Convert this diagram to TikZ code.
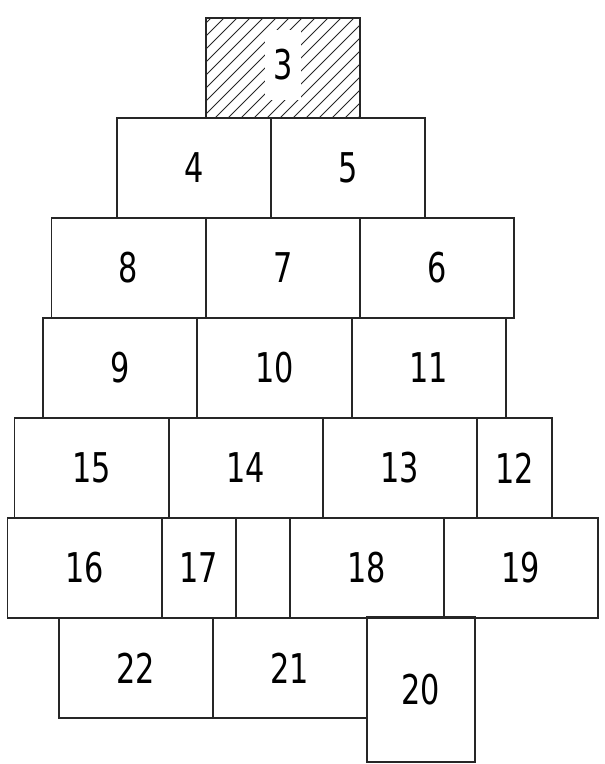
\documentclass[tikz,border=0pt]{standalone}
\usepackage{graphicx}
\usepackage{fontspec}
\setmainfont{DejaVu Sans}
\newcommand\dgt[1]{\scalebox{0.74}[1]{#1}}
\begin{document}
\begin{tikzpicture}[x=1pt,y=-1pt,
  cell/.style={draw=black!85, line width=1.3pt, minimum width=#1, minimum height=100pt,
    inner sep=0pt, outer sep=0pt, font=\fontsize{41}{41}\selectfont},
  cell/.default=154pt,
  hatch/.style={draw=black!85, line width=1pt}]
\useasboundingbox (0,0) rectangle (605,764);
% box 3 with hatching
\begin{scope}
  \clip (206,18) rectangle (360,118);
  \foreach \a in {94,107,...,366} {
    \draw[hatch] (\a,122) -- (\a+108,14);
  }
\end{scope}
\node[cell] (b3) at (283,68) {};
\node[fill=white, minimum width=36pt, minimum height=70pt, inner sep=0pt,
  font=\fontsize{41}{41}\selectfont] (l3) at (283,65) {\dgt{3}};
% row 1
\node[cell] (b4) at (194,168) {\dgt{4}};
\node[cell] (b5) at (348,168) {\dgt{5}};
% row 2
\node[cell] (b8) at (128.5,268) {\dgt{8}};
\node[cell] (b7) at (283,268) {\dgt{7}};
\node[cell] (b6) at (437,268) {\dgt{6}};
% row 3
\node[cell] (b9) at (120,368) {\dgt{9}};
\node[cell] (b10) at (274.5,368) {\dgt{10}};
\node[cell] (b11) at (429,368) {\dgt{11}};
% row 4
\node[cell] (b15) at (91.5,468) {\dgt{15}};
\node[cell] (b14) at (246,468) {\dgt{14}};
\node[cell] (b13) at (400,468) {\dgt{13}};
\node[cell=75pt] (b12) at (514.5,468) {\dgt{12}};
% row 5
\node[cell] (b16) at (84.5,568) {\dgt{16}};
\node[cell=74pt] (b17) at (199,568) {\dgt{17}};
\node[cell=54pt] (bx) at (263,568) {};
\node[cell] (b18) at (367,568) {\dgt{18}};
\node[cell] (b19) at (521,568) {\dgt{19}};
% row 6
\node[cell] (b22) at (136,668) {\dgt{22}};
\node[cell] (b21) at (290,668) {\dgt{21}};
\node[cell=108pt, minimum height=145pt] (b20) at (421,689.5) {\dgt{20}};
\end{tikzpicture}
\end{document}
